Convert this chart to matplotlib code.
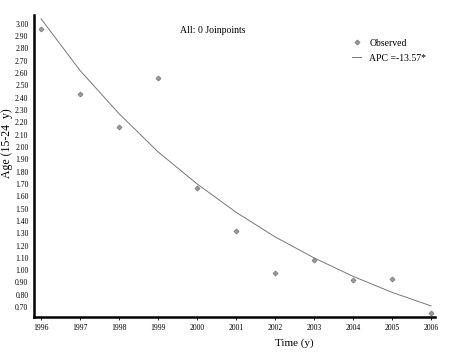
import matplotlib
matplotlib.use('Agg')
import matplotlib.pyplot as plt
import numpy as np

years = [1996, 1997, 1998, 1999, 2000, 2001, 2002, 2003, 2004, 2005, 2006]
observed = [2.96, 2.43, 2.16, 2.56, 1.67, 1.32, 0.98, 1.08, 0.92, 0.93, 0.65]
fitted = [3.04, 2.62, 2.27, 1.96, 1.70, 1.47, 1.27, 1.10, 0.95, 0.82, 0.71]
yticks = [0.70, 0.80, 0.90, 1.00, 1.10, 1.20, 1.30, 1.40, 1.50, 1.60, 1.70, 1.80, 1.90,
          2.00, 2.10, 2.20, 2.30, 2.40, 2.50, 2.60, 2.70, 2.80, 2.90, 3.00]

plt.rcParams['font.family'] = ['Liberation Serif', 'DejaVu Serif']

fig = plt.figure(figsize=(4.5, 3.54), dpi=100)
ax = fig.add_axes([0.0756, 0.1045, 0.891, 0.853])

ax.plot(years, fitted, color='#777777', lw=0.7, label='APC =-13.57*')
ax.plot(years, observed, linestyle='none', marker='D', ms=2.6, color='#999999',
        markeredgecolor='#777777', markeredgewidth=0.5, label='Observed')

ax.set_xlim(1995.82, 2006.1)
ax.set_ylim(0.62, 3.07)
ax.set_xticks(years)
ax.set_xticklabels([str(y) for y in years], fontsize=5.5)
ax.set_yticks(yticks)
ax.set_yticklabels(['%.2f' % v for v in yticks], fontsize=5.5)
ax.tick_params(axis='x', length=2, width=0.6, pad=3)
ax.tick_params(axis='y', length=0, pad=4)

for s in ['top', 'right']:
    ax.spines[s].set_visible(False)
for s in ['left', 'bottom']:
    ax.spines[s].set_linewidth(1.8)

ax.text(0.364, 0.95, 'All: 0 Joinpoints', transform=ax.transAxes, fontsize=7, va='center')

h, l = ax.get_legend_handles_labels()
ax.legend([h[1], h[0]], [l[1], l[0]], loc='upper right', bbox_to_anchor=(1.0, 0.95),
          frameon=False, fontsize=7, handlelength=1.0, handletextpad=0.8, labelspacing=0.6)

ax.set_ylabel('Age (15-24  y)', fontsize=8.5)
ax.yaxis.set_label_coords(-0.052, 0.576)
fig.text(0.655, 0.022, 'Time (y)', fontsize=8, ha='center')

fig.savefig('out.png', dpi=100)
